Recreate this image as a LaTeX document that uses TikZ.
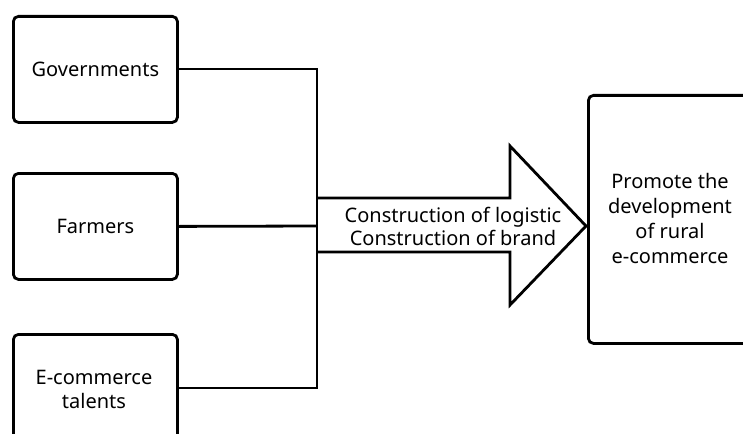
\documentclass[tikz,border=0pt]{standalone}
\usepackage{fontspec}
\setmainfont{Noto Sans}
\begin{document}
\begin{tikzpicture}[x=1pt,y=-1pt,
  box/.style={draw,line width=2.8pt,rounded corners=5pt,minimum width=164pt,minimum height=106pt,anchor=north west,align=center,font=\fontsize{20}{24}\selectfont,inner sep=0pt},
  txt/.style={font=\fontsize{20}{24}\selectfont,align=center},
  conn/.style={line width=2.8pt}]
\useasboundingbox (0,0) rectangle (743,433);
\clip (0,0) rectangle (743,433);
\node[box] (gov) at (12,15) {Governments};
\node[box] (farm) at (12,172) {Farmers};
\node[box,minimum height=140pt] (ecom) at (12,333) {};
\node[txt] (ecomt) at (94,389) {E-commerce\\talents};
\node[box,minimum width=200pt,minimum height=248pt] (res) at (587,94) {};
\node[txt,font=\fontsize{20}{25}\selectfont] (rest) at (670,218) {Promote the\\development\\of rural\\e-commerce};
\coordinate (b1) at (317,69);
\coordinate (b2) at (317,226);
\coordinate (b3) at (317,388);
\draw[conn] (gov.east |- b1) -- (b1) -- (b3) -- (ecom.east |- b3);
\draw[conn] (farm.east) -- (b2);
\draw[conn,line join=miter] (317,198) -- (510,198) -- (510,146) -- (586,226) -- (510,305) -- (510,252) -- (317,252);
\node[txt,font=\fontsize{20}{23}\selectfont] (lbl) at (453,226) {Construction of logistic\\Construction of brand};
\end{tikzpicture}
\end{document}
